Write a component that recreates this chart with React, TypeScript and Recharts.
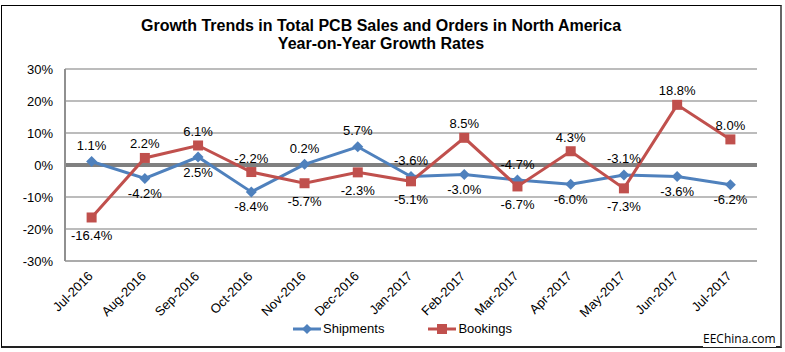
import React from 'react';
import { LineChart, Line, XAxis, YAxis, CartesianGrid, ReferenceLine, LabelList, Legend } from 'recharts';

const months = ['Jul-2016', 'Aug-2016', 'Sep-2016', 'Oct-2016', 'Nov-2016', 'Dec-2016', 'Jan-2017', 'Feb-2017', 'Mar-2017', 'Apr-2017', 'May-2017', 'Jun-2017', 'Jul-2017'];
const shipments = [1.1, -4.2, 2.5, -8.4, 0.2, 5.7, -3.6, -3.0, -4.7, -6.0, -3.1, -3.6, -6.2];
const bookings = [-16.4, 2.2, 6.1, -2.2, -5.7, -2.3, -5.1, 8.5, -6.7, 4.3, -7.3, 18.8, 8.0];
const shipmentLabelSide = ['up', 'down', 'down', 'down', 'up', 'up', 'up', 'down', 'up', 'down', 'up', 'down', 'down'];
const bookingLabelSide = ['down', 'up', 'up', 'up', 'down', 'down', 'down', 'up', 'down', 'up', 'down', 'up', 'up'];
const yTicks = [-30, -20, -10, 0, 10, 20, 30];
const titleLines = ['Growth Trends in Total PCB Sales and Orders in North America', 'Year-on-Year Growth Rates'];
const seriesNames = ['Shipments', 'Bookings'];
const sourceText = 'EEChina.com';

const data = months.map((m, i) => ({ month: m, Shipments: shipments[i], Bookings: bookings[i] }));

const FONT = "Arial, 'Liberation Sans', sans-serif";
const BLUE = '#4F81BD';
const RED = '#C0504D';
const PLOT_W = 692;
const EDGE_PAD = PLOT_W / months.length / 2;

const Diamond = (props: any) => {
  const { cx, cy, fill } = props;
  if (cx == null || cy == null) return null;
  const r = 5.5;
  return <polygon points={`${cx},${cy - r} ${cx + r},${cy} ${cx},${cy + r} ${cx - r},${cy}`} fill={fill} />;
};

const Square = (props: any) => {
  const { cx, cy, fill } = props;
  if (cx == null || cy == null) return null;
  const s = 5;
  return <rect x={cx - s} y={cy - s} width={2 * s} height={2 * s} fill={fill} />;
};

const makeLabel = (sides: string[], upDy: number, downDy: number) => (props: any) => {
  const { x, y, value, index } = props;
  if (x == null || y == null) return null;
  const up = sides[index] === 'up';
  return (
    <text x={x} y={y + (up ? upDy : downDy)} textAnchor="middle" dominantBaseline="central" fontSize={13} fontFamily={FONT} fill="#000">
      {Number(value).toFixed(1)}%
    </text>
  );
};

const XTick = (props: any) => {
  const { x, y, payload } = props;
  const ax = x + 2;
  const ay = y + 16;
  return (
    <text x={ax} y={ay} transform={`rotate(-45 ${ax} ${ay})`} textAnchor="end" fontSize={13} fontFamily={FONT} fill="#000">
      {payload.value}
    </text>
  );
};

const LegendContent = () => (
  <div style={{ display: 'flex', alignItems: 'center', font: `13px ${FONT}`, color: '#000', whiteSpace: 'nowrap' }}>
    <svg width={28} height={12} style={{ display: 'block' }}>
      <line x1={0} y1={6} x2={28} y2={6} stroke={BLUE} strokeWidth={3} />
      <polygon points="14,1 19,6 14,11 9,6" fill={BLUE} />
    </svg>
    <span style={{ marginLeft: 2 }}>{seriesNames[0]}</span>
    <svg width={28} height={12} style={{ display: 'block', marginLeft: 44 }}>
      <line x1={0} y1={6} x2={28} y2={6} stroke={RED} strokeWidth={3} />
      <rect x={9} y={1} width={10} height={10} fill={RED} />
    </svg>
    <span style={{ marginLeft: 2 }}>{seriesNames[1]}</span>
  </div>
);

export default function App() {
  return (
    <div style={{ position: 'absolute', left: 0, top: 0, width: 785, height: 352, background: '#fff' }}>
      <div style={{ position: 'absolute', left: 1, top: 5, width: 778, height: 340, border: '1px solid #000', borderRight: '2px solid #666', borderBottom: '2px solid #222' }} />
      <div style={{ position: 'absolute', left: 0, top: 17, width: 762, textAlign: 'center', font: `bold 16px ${FONT}`, lineHeight: '18px', color: '#000' }}>
        {titleLines.map((t) => (
          <div key={t}>{t}</div>
        ))}
      </div>
      <LineChart width={785} height={352} data={data} margin={{ top: 69, right: 28, left: 8, bottom: 0 }} style={{ position: 'absolute', left: 0, top: 0 }}>
        <CartesianGrid vertical={false} stroke="#A6A6A6" strokeWidth={1.5} />
        <XAxis dataKey="month" height={91} tick={<XTick />} tickLine={false} tickSize={0} tickMargin={0} padding={{ left: EDGE_PAD, right: EDGE_PAD }} axisLine={{ stroke: '#A6A6A6', strokeWidth: 1.5 }} interval={0} />
        <YAxis width={57} domain={[-30, 30]} ticks={yTicks} tickFormatter={(v: number) => `${v}%`} tickLine={false} tickSize={0} tickMargin={12} axisLine={{ stroke: '#909090', strokeWidth: 2 }} tick={{ fontSize: 13, fontFamily: FONT, fill: '#000' }} allowDataOverflow />
        <ReferenceLine y={0} stroke="#808080" strokeWidth={4} />
        <Legend verticalAlign="middle" align="center" layout="horizontal" content={<LegendContent />} wrapperStyle={{ left: 293, top: 321, width: 'auto', height: 16 }} />
        <Line dataKey="Shipments" stroke={BLUE} strokeWidth={3} dot={<Diamond fill={BLUE} />} activeDot={false} isAnimationActive={false}>
          <LabelList dataKey="Shipments" content={makeLabel(shipmentLabelSide, -16, 15)} />
        </Line>
        <Line dataKey="Bookings" stroke={RED} strokeWidth={3} dot={<Square fill={RED} />} activeDot={false} isAnimationActive={false}>
          <LabelList dataKey="Bookings" content={makeLabel(bookingLabelSide, -14, 18)} />
        </Line>
      </LineChart>
      <div style={{ position: 'absolute', left: 703, top: 331, font: "12px 'Open Sans', sans-serif", color: '#000', lineHeight: '16px', background: '#fff' }}>
        {sourceText}
      </div>
    </div>
  );
}
